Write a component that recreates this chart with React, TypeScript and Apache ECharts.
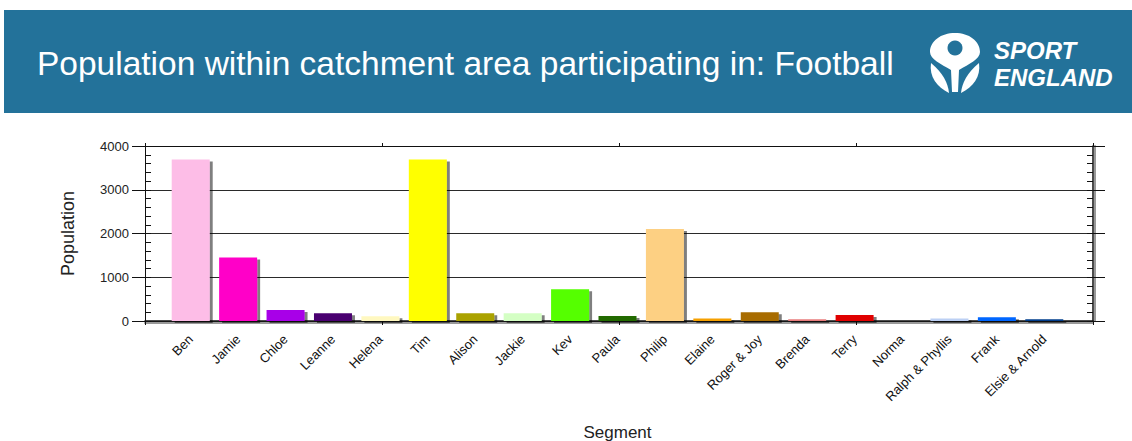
import React, { useEffect, useRef } from "react";
import * as echarts from "echarts";

const categories = [
  "Ben", "Jamie", "Chloe", "Leanne", "Helena", "Tim", "Alison", "Jackie", "Kev", "Paula",
  "Philip", "Elaine", "Roger & Joy", "Brenda", "Terry", "Norma", "Ralph & Phyllis", "Frank", "Elsie & Arnold",
];
const population = [3690, 1450, 250, 175, 110, 3690, 175, 175, 725, 115, 2105, 60, 200, 40, 140, 0, 60, 85, 40];
const barColors = [
  "#fdbde7", "#ff00c8", "#a800e8", "#4a0070", "#fff8c0", "#ffff00", "#aaa200", "#d4ffc4", "#55ff00", "#226a00",
  "#fdd083", "#f5a000", "#a86c00", "#e87c7c", "#e00000", "#cccccc", "#bcd0f4", "#0066ff", "#003c8c",
];
const yMin = 0;
const yMax = 4000;
const yInterval = 1000;

const TITLE = "Population within catchment area participating in: Football";
const FONT = "'Liberation Sans', Arial, sans-serif";
const BANNER = "#23729a";

const HEAD_D =
  "M 0 0 C 14 0 25 8 25 19 C 25 26 14 31 4 37 L 3 59 L -3 59 L -4 37 C -14 31 -25 26 -25 19 C -25 8 -14 0 0 0 Z";
const LEAF_L_D = "M -24 30 C -26 44 -18 54 -6 60 C -7 50 -12 40 -24 30 Z";
const LEAF_R_D = "M 24 30 C 26 44 18 54 6 60 C 7 50 12 40 24 30 Z";

echarts.graphic.registerShape("seHead", echarts.graphic.extendPath(HEAD_D, {}));
echarts.graphic.registerShape("seLeafL", echarts.graphic.extendPath(LEAF_L_D, {}));
echarts.graphic.registerShape("seLeafR", echarts.graphic.extendPath(LEAF_R_D, {}));

export default function App() {
  const ref = useRef<HTMLDivElement>(null);
  useEffect(() => {
    if (!ref.current) return;
    const chart = echarts.init(ref.current, null, { renderer: "svg" });
    const axisDark = "#111";
    const shadowGrey = "rgba(0,0,0,0.4)";
    const baseY = {
      gridIndex: 0,
      type: "value",
      min: yMin,
      max: yMax,
      interval: yInterval,
    };
    const noLabel = { show: false };
    const noSplit = { show: false };
    const option: any = {
      animation: false,
      textStyle: { fontFamily: FONT },
      grid: [
        { left: 145, top: 146, width: 948, height: 175, outerBoundsMode: "none", containLabel: false },
        { left: 167, top: 146, width: 901, height: 175, outerBoundsMode: "none", containLabel: false },
      ],
      xAxis: [
        {
          gridIndex: 0, type: "value", position: "bottom", min: 0, max: 4, interval: 1,
          axisLine: { show: true, onZero: false, lineStyle: { color: axisDark, width: 1.5 } },
          axisTick: { show: true, length: 4, lineStyle: { color: axisDark } },
          axisLabel: noLabel, splitLine: noSplit,
        },
        {
          gridIndex: 0, type: "value", position: "top", min: 0, max: 4, interval: 1,
          axisLine: { show: true, onZero: false, lineStyle: { color: axisDark } },
          axisTick: { show: true, length: 3, lineStyle: { color: axisDark } },
          axisLabel: noLabel, splitLine: noSplit,
        },
        {
          gridIndex: 1, type: "category", data: categories,
          axisLine: { show: false, onZero: false }, axisTick: { show: false },
          axisLabel: { rotate: 45, fontSize: 13, color: "#111", margin: 16, interval: 0, fontFamily: FONT },
          name: "Segment", nameLocation: "middle", nameGap: 103,
          nameTextStyle: { fontSize: 17, color: "#222", fontFamily: FONT },
        },
        {
          gridIndex: 0, type: "value", position: "bottom", offset: 2, min: 0, max: 4, interval: 1,
          axisLine: { show: true, onZero: false, lineStyle: { color: shadowGrey, width: 2 } },
          axisTick: { show: false }, axisLabel: noLabel, splitLine: noSplit,
        },
      ],
      yAxis: [
        {
          ...baseY, position: "left",
          axisLine: { show: true, onZero: false, lineStyle: { color: axisDark } },
          axisTick: { show: true, length: 13, lineStyle: { color: axisDark } },
          axisLabel: { fontSize: 13, color: "#222", margin: 16, fontFamily: FONT, formatter: (v: number) => String(v) },
          splitLine: { show: true, lineStyle: { color: "#2a2a2a", width: 1 } },
          name: "Population", nameLocation: "middle", nameGap: 68,
          nameTextStyle: { fontSize: 18, color: "#222", fontFamily: FONT },
        },
        {
          ...baseY, position: "left",
          axisLine: { show: false, onZero: false },
          axisTick: { show: true, inside: true, length: 6, lineStyle: { color: axisDark } },
          minorTick: { show: true, splitNumber: 5, length: 6, lineStyle: { color: axisDark } },
          axisLabel: noLabel, splitLine: noSplit,
        },
        {
          ...baseY, position: "right",
          axisLine: { show: true, onZero: false, lineStyle: { color: axisDark, width: 1.5 } },
          axisTick: { show: true, length: 12, lineStyle: { color: axisDark } },
          axisLabel: noLabel, splitLine: noSplit,
        },
        {
          ...baseY, position: "right",
          axisLine: { show: false, onZero: false },
          axisTick: { show: true, inside: true, length: 6, lineStyle: { color: axisDark } },
          minorTick: { show: true, splitNumber: 5, length: 6, lineStyle: { color: axisDark } },
          axisLabel: noLabel, splitLine: noSplit,
        },
        { gridIndex: 1, type: "value", min: yMin, max: yMax, interval: yInterval, show: false },
        {
          ...baseY, position: "right", offset: 2,
          axisLine: { show: true, onZero: false, lineStyle: { color: shadowGrey, width: 2 } },
          axisTick: { show: false }, axisLabel: noLabel, splitLine: noSplit,
        },
      ],
      series: [
        {
          type: "bar", xAxisIndex: 2, yAxisIndex: 4, barWidth: 38,
          data: population.map((v, i) => ({ value: v, itemStyle: { color: barColors[i] } })),
          itemStyle: { shadowColor: "rgba(0,0,0,0.5)", shadowOffsetX: 3, shadowOffsetY: 2, shadowBlur: 1 },
        },
      ],
      graphic: [
        { type: "rect", shape: { x: 4, y: 10, width: 1128, height: 103 }, style: { fill: BANNER }, silent: true },
        {
          type: "text", x: 37, y: 63,
          style: { text: TITLE, fill: "#ffffff", fontSize: 33.5, fontFamily: FONT, verticalAlign: "middle", align: "left" },
        },
        { type: "seHead", x: 955, y: 33, style: { fill: "#ffffff" } },
        { type: "circle", shape: { cx: 955, cy: 48, r: 7.5 }, style: { fill: BANNER } },
        { type: "seLeafL", x: 955, y: 33, style: { fill: "#ffffff" } },
        { type: "seLeafR", x: 955, y: 33, style: { fill: "#ffffff" } },
        {
          type: "text", x: 994, y: 50,
          style: { text: "SPORT", fill: "#ffffff", fontSize: 24, fontWeight: "bold", fontStyle: "italic", fontFamily: FONT, verticalAlign: "middle" },
        },
        {
          type: "text", x: 994, y: 77,
          style: { text: "ENGLAND", fill: "#ffffff", fontSize: 24, fontWeight: "bold", fontStyle: "italic", fontFamily: FONT, verticalAlign: "middle" },
        },
      ],
    };
    chart.setOption(option);
    return () => chart.dispose();
  }, []);
  return (
    <div
      ref={ref}
      style={{ position: "absolute", left: 0, top: 0, width: 1132, height: 441, background: "#ffffff" }}
    />
  );
}
